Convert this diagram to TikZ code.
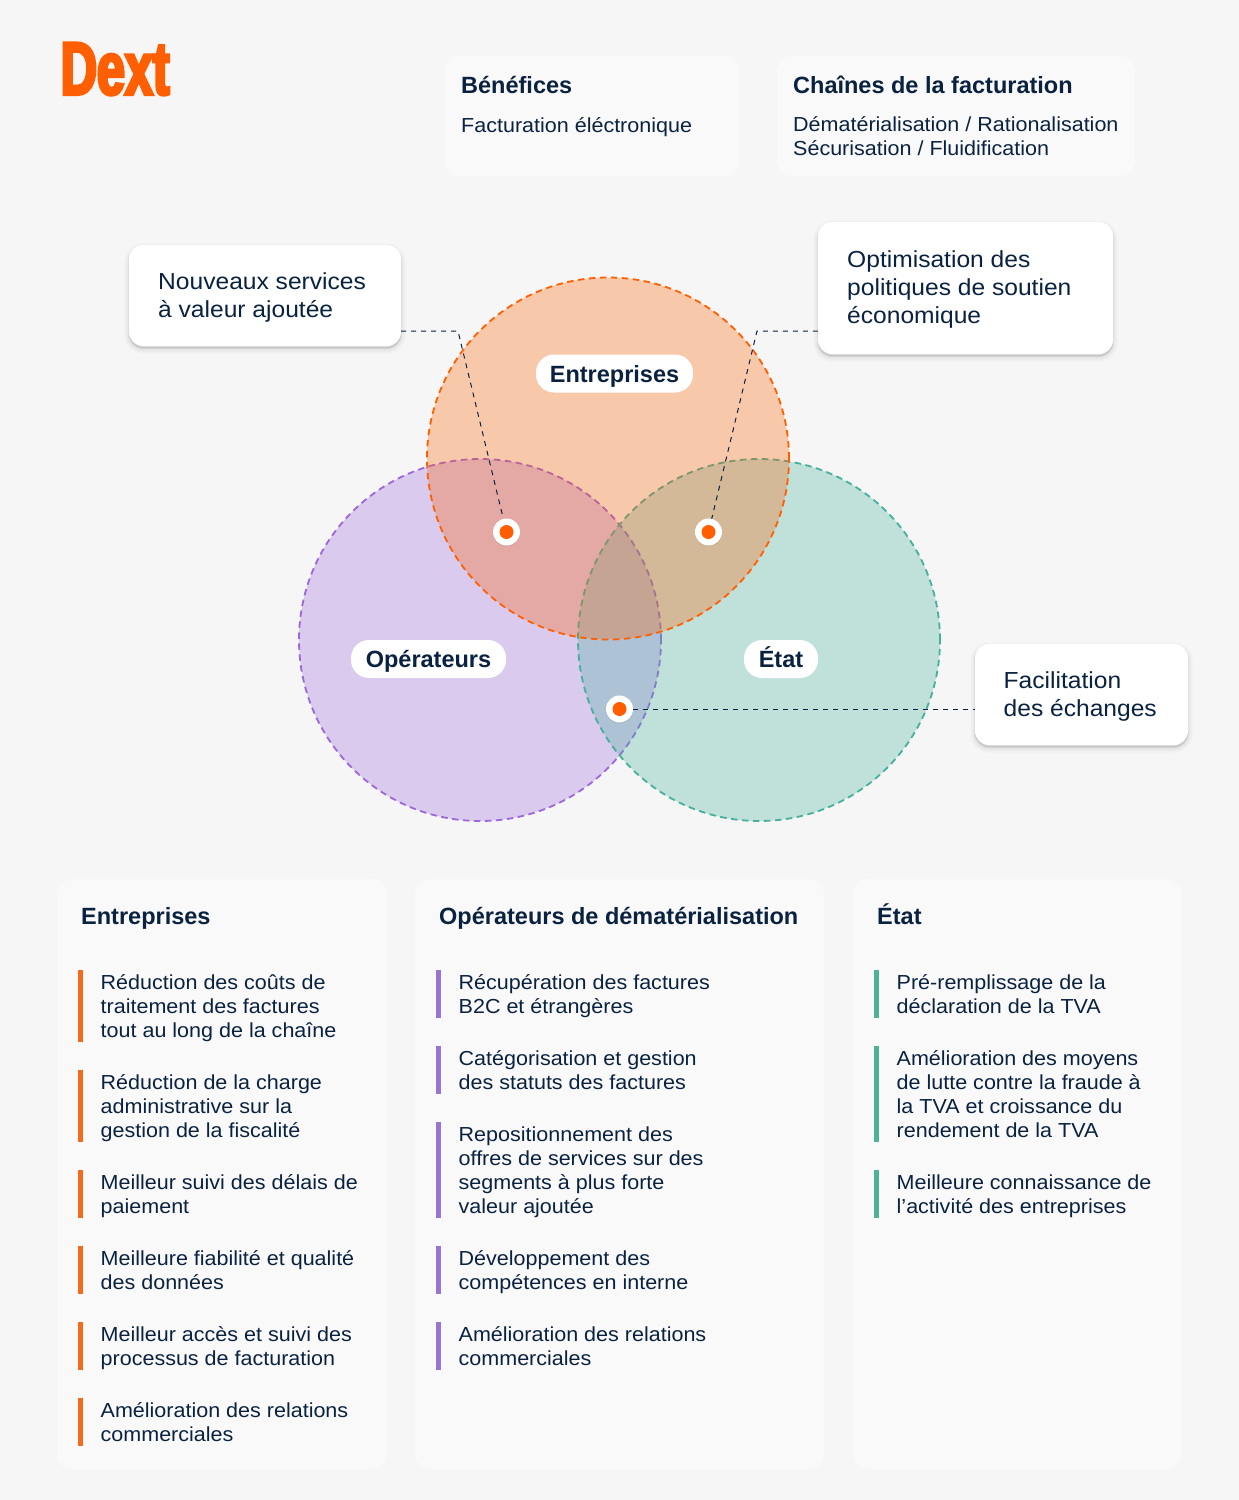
\documentclass[tikz,border=0pt]{standalone}
\usepackage{fontspec}
\usepackage{tikz}
\setmainfont[FakeStretch=1.06,BoldFeatures={FakeStretch=1.0}]{Liberation Sans}
\newfontfamily\logofont[BoldFeatures={FakeStretch=0.67,FakeBold=4}]{Liberation Sans}

\definecolor{fond}{HTML}{F6F6F6}
\definecolor{carte}{HTML}{F9F9F9}
\definecolor{encre}{HTML}{0A2240}
\definecolor{orange}{HTML}{FF5F00}
\definecolor{violet}{HTML}{9C67DB}
\definecolor{vert}{HTML}{45B09C}
\definecolor{barreorange}{HTML}{F26A1C}
\definecolor{barreviolet}{HTML}{9A74D2}
\definecolor{barrevert}{HTML}{4DB396}

\tikzset{
    ombre/.style = {
        preaction={fill=black, draw=black, opacity=0.025, line width=9pt, transform canvas={yshift=-3pt}},
        preaction={fill=black, draw=black, opacity=0.03, line width=5pt, transform canvas={yshift=-3pt}},
        preaction={fill=black, draw=black, opacity=0.04, line width=2pt, transform canvas={yshift=-2pt}}},
    carte/.style = {fill=carte, rounded corners=15pt, inner sep=0pt},
    bulle/.style = {fill=white, rounded corners=14pt, inner sep=0pt, ombre},
    pastille/.style = {fill=white, rounded corners=18pt, inner sep=0pt, text=encre, minimum height=38pt,
        text height=17.5pt, text depth=0pt, font=\fontsize{23.5}{28}\selectfont\bfseries},
    titre/.style = {anchor=west, inner sep=0pt, text=encre, text height=17.5pt, text depth=0pt,
        font=\fontsize{23.5}{28}\selectfont\bfseries},
    texte/.style = {anchor=west, inner sep=0pt, yshift=-4pt, text=encre, align=left,
        font=\fontsize{20.3}{24}\selectfont, execute at begin node=\strut, execute at end node=\strut},
    grandtexte/.style = {anchor=west, inner sep=0pt, yshift=-4.5pt, text=encre, align=left,
        font=\fontsize{23.2}{28}\selectfont, execute at begin node=\strut, execute at end node=\strut},
    cercle/.style = {fill opacity=0.3, line width=1.8pt, dash pattern=on 6.5pt off 4.5pt},
    renvoi/.style = {encre, line width=1pt, dash pattern=on 5pt off 5pt},
    point/.style = {circle, fill=white, inner sep=0pt, minimum size=27pt,
        preaction={fill=black, opacity=0.08, transform canvas={yshift=-1pt}}},
    noyau/.style = {circle, fill=orange, inner sep=0pt, minimum size=14pt},
    barreE/.style = {barreorange, line width=5pt},
    barreO/.style = {barreviolet, line width=5pt},
    barreV/.style = {barrevert, line width=5pt}
}

\begin{document}
\begin{tikzpicture}[x=1pt, y=-1pt]
        \useasboundingbox (0,0) rectangle (1239,1500);
        \fill [fond] (0,0) rectangle (1239,1500);

        \node (logo) [anchor=base west, inner sep=0pt, text=orange, font=\fontsize{75}{75}\selectfont\logofont\bfseries] at (60.5,94.5) {Dext};

        \node (carteBenefices) [carte, minimum width=294pt, minimum height=120pt] at (592,116) {};
        \node (carteChaines) [carte, minimum width=358pt, minimum height=120pt] at (956,116) {};
        \node (titreBenefices) [titre] at (461,85) {Bénéfices};
        \node (texteBenefices) [texte] at (461,124) {Facturation éléctronique};
        \node (titreChaines) [titre] at (793,85) {Chaînes de la facturation};
        \node (texteChaines) [texte] at (793,136) {Dématérialisation / Rationalisation\\Sécurisation / Fluidification};

        \draw [violet, cercle, fill=violet] (480,640) circle [radius = 181pt];
        \draw [vert, cercle, fill=vert] (759,640) circle [radius = 181pt];
        \draw [orange, cercle, fill=orange] (608,458.5) circle [radius = 181pt];

        \node (pastilleE) [pastille, minimum width=157pt] at (614.5,373.5) {Entreprises};
        \node (pastilleO) [pastille, minimum width=155pt] at (428.5,659) {Opérateurs};
        \node (pastilleV) [pastille, minimum width=74pt] at (781,659) {État};

        \node (nouveaux) [bulle, minimum width=272pt, minimum height=101pt] at (265,295.5) {};
        \node (optimisation) [bulle, minimum width=295pt, minimum height=132pt] at (965.5,288) {};
        \node (facilitation) [bulle, minimum width=213pt, minimum height=101pt] at (1081.5,694.5) {};
        \node (texteNouveaux) [grandtexte] at (158,295) {Nouveaux services\\à valeur ajoutée};
        \node (texteOptimisation) [grandtexte] at (847,286.5) {Optimisation des\\politiques de soutien\\économique};
        \node (texteFacilitation) [grandtexte] at (1003.5,694) {Facilitation\\des échanges};

        \node (pointA) [point] at (506.5,532) {};
        \node (pointB) [point] at (708.5,532) {};
        \node (pointC) [point] at (619.5,709) {};
        \coordinate (coudeA) at (458,331);
        \coordinate (coudeB) at (757,331);
        \draw [renvoi] (nouveaux.east |- coudeA) -- (coudeA) -- (pointA);
        \draw [renvoi] (optimisation.west |- coudeB) -- (coudeB) -- (pointB);
        \draw [renvoi] (pointC) -- (facilitation.west |- pointC);
        \node (noyauA) [noyau] at (pointA) {};
        \node (noyauB) [noyau] at (pointB) {};
        \node (noyauC) [noyau] at (pointC) {};

        \node (carteE) [carte, minimum width=330pt, minimum height=590pt] at (222,1174) {};
        \node (carteO) [carte, minimum width=409pt, minimum height=590pt] at (619.5,1174) {};
        \node (carteV) [carte, minimum width=328pt, minimum height=590pt] at (1017,1174) {};
        \node (titreE) [titre] at (81,916) {Entreprises};
        \node (titreO) [titre] at (439,916) {Opérateurs de dématérialisation};
        \node (titreV) [titre] at (877,916) {État};

        \draw [barreE] (80.5,970) -- (80.5,1042);
        \node (e1) [texte] at (100.5,1006) {Réduction des coûts de\\traitement des factures\\tout au long de la chaîne};
        \draw [barreE] (80.5,1070) -- (80.5,1142);
        \node (e2) [texte] at (100.5,1106) {Réduction de la charge\\administrative sur la\\gestion de la fiscalité};
        \draw [barreE] (80.5,1170) -- (80.5,1218);
        \node (e3) [texte] at (100.5,1194) {Meilleur suivi des délais de\\paiement};
        \draw [barreE] (80.5,1246) -- (80.5,1294);
        \node (e4) [texte] at (100.5,1270) {Meilleure fiabilité et qualité\\des données};
        \draw [barreE] (80.5,1322) -- (80.5,1370);
        \node (e5) [texte] at (100.5,1346) {Meilleur accès et suivi des\\processus de facturation};
        \draw [barreE] (80.5,1398) -- (80.5,1446);
        \node (e6) [texte] at (100.5,1422) {Amélioration des relations\\commerciales};

        \draw [barreO] (438.5,970) -- (438.5,1018);
        \node (o1) [texte] at (458.5,994) {Récupération des factures\\B2C et étrangères};
        \draw [barreO] (438.5,1046) -- (438.5,1094);
        \node (o2) [texte] at (458.5,1070) {Catégorisation et gestion\\des statuts des factures};
        \draw [barreO] (438.5,1122) -- (438.5,1218);
        \node (o3) [texte] at (458.5,1170) {Repositionnement des\\offres de services sur des\\segments à plus forte\\valeur ajoutée};
        \draw [barreO] (438.5,1246) -- (438.5,1294);
        \node (o4) [texte] at (458.5,1270) {Développement des\\compétences en interne};
        \draw [barreO] (438.5,1322) -- (438.5,1370);
        \node (o5) [texte] at (458.5,1346) {Amélioration des relations\\commerciales};

        \draw [barreV] (876.5,970) -- (876.5,1018);
        \node (v1) [texte] at (896.5,994) {Pré-remplissage de la\\déclaration de la TVA};
        \draw [barreV] (876.5,1046) -- (876.5,1142);
        \node (v2) [texte] at (896.5,1094) {Amélioration des moyens\\de lutte contre la fraude à\\la TVA et croissance du\\rendement de la TVA};
        \draw [barreV] (876.5,1170) -- (876.5,1218);
        \node (v3) [texte] at (896.5,1194) {Meilleure connaissance de\\l’activité des entreprises};
    \end{tikzpicture}
\end{document}
